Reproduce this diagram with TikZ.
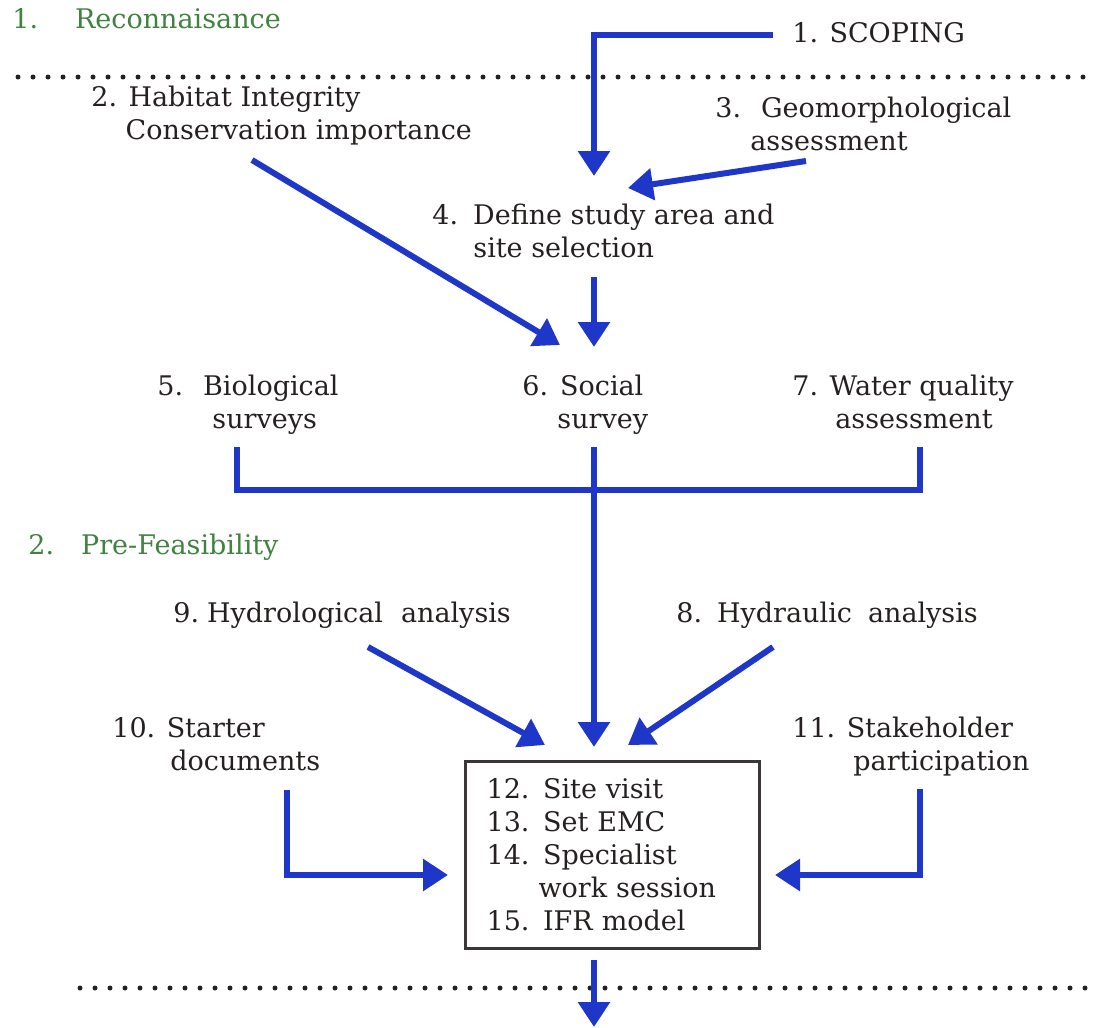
\documentclass[tikz,border=0pt]{standalone}
\usepackage{fontspec}
\setmainfont{DejaVu Serif}
\usetikzlibrary{arrows.meta}
\definecolor{flowblue}{RGB}{30,55,200}
\definecolor{phasegreen}{RGB}{64,130,64}
\definecolor{inkgray}{RGB}{38,32,32}
\definecolor{boxgray}{RGB}{60,55,55}

\begin{document}
\begin{tikzpicture}[
  x=0.5pt, y=-0.5pt,
  txt/.style={anchor=north west, inner sep=0pt, align=left,
              text=inkgray, font=\fontsize{13.5}{16.5}\selectfont},
  phase/.style={txt, text=phasegreen},
  stepbox/.style={draw=boxgray, line width=1.6pt, text width=126pt,
                  inner xsep=10.5pt, minimum height=93.5pt},
  link/.style={line width=3pt, flowblue},
  flow/.style={link, -{Triangle[length=12.5pt, width=15.5pt]}},
  dotline/.style={line width=2.5pt, line cap=round, inkgray,
                  dash pattern=on 0pt off 7.5pt},
]
\useasboundingbox (0,0) rectangle (1100,1028);

%% stages
\node[phase] (recon) at (12,8) {1.\hspace{18.5pt}Reconnaisance};
\node[phase] (prefeas) at (28,533.5) {2.\hspace{13.5pt}Pre-Feasibility};
\draw[dotline] (18,77) -- (1092,77);
\draw[dotline] (80,988) -- (1095,988);

%% steps
\node[txt] (scoping) at (792,22) {1. SCOPING};
\node[txt] (habitat) at (91,85.5) {2. Habitat Integrity\\\phantom{2.} Conservation importance};
\node[txt] (geomorph) at (715,96.5) {3.\hspace{10pt}Geomorphological\\\hspace*{17.5pt}assessment};
\node[txt] (define) at (432,203.5) {4.\hspace{7.5pt}Define study area and\\\hspace*{20.5pt}site selection};
\node[txt] (bio) at (157,374.5) {5.\hspace{10pt}Biological\\\hspace*{27.5pt}surveys};
\node[txt] (social) at (522,374.5) {6.\hspace{6pt}Social\\\hspace*{17.5pt}survey};
\node[txt] (water) at (792,374.5) {7. Water quality\\\hspace*{21.5pt}assessment};
\node[txt] (hydro) at (173,601.5) {9.\hspace{4pt}Hydrological\hspace{9pt}analysis};
\node[txt] (hydra) at (676,601.5) {8.\hspace{7.5pt}Hydraulic\hspace{8pt}analysis};
\node[txt] (starter) at (112,717) {10. Starter\\\hspace*{29pt}documents};
\node[txt] (stake) at (792,716.5) {11. Stakeholder\\\hspace*{30.5pt}participation};
\node[txt, stepbox] (session) at (464,760) {12. Site visit\\13. Set EMC\\14. Specialist\\\phantom{14.} work session\\15. IFR model};

%% connector ends
\coordinate (scoping-out) at (773,35);
\coordinate (define-in) at (594,176);
\coordinate (geomorph-out) at (806,161);
\coordinate (define-in2) at (628,188);
\coordinate (define-out) at (594,277);
\coordinate (social-in) at (594,347);
\coordinate (habitat-out) at (252,160);
\coordinate (social-in2) at (560,345);
\coordinate (bio-out) at (237,447);
\coordinate (social-out) at (594,447);
\coordinate (water-out) at (920,447);
\coordinate (session-in) at (594,747);
\coordinate (hydro-out) at (368,647);
\coordinate (session-in2) at (545,745);
\coordinate (hydra-out) at (773,647);
\coordinate (session-in3) at (628,745);
\coordinate (starter-out) at (287,790);
\coordinate (session-w) at (448,875);
\coordinate (stake-out) at (920,789);
\coordinate (session-e) at (775,875);
\coordinate (session-out) at (594,960);
\coordinate (next-stage) at (594,1027);

%% flows
\draw[flow] (scoping-out) -| (define-in);
\draw[flow] (geomorph-out) -- (define-in2);
\draw[flow] (define-out) -- (social-in);
\draw[flow] (habitat-out) -- (social-in2);
\draw[link] (bio-out) -- ++(0,43) -| (water-out);
\draw[flow] (social-out) -- (session-in);
\draw[flow] (hydro-out) -- (session-in2);
\draw[flow] (hydra-out) -- (session-in3);
\draw[flow] (starter-out) |- (session-w);
\draw[flow] (stake-out) |- (session-e);
\draw[flow] (session-out) -- (next-stage);

\end{tikzpicture}
\end{document}
